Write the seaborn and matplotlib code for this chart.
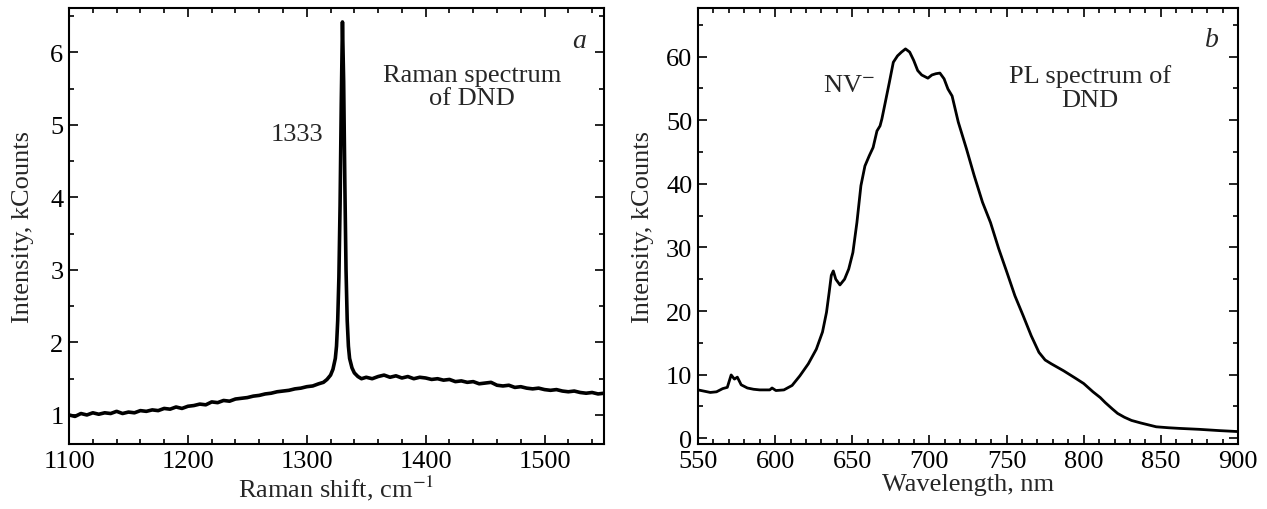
import numpy as np
import pandas as pd
import matplotlib.pyplot as plt
import seaborn as sns
from matplotlib.ticker import MultipleLocator

# Raman spectrum of DND (panel a)
raman_shift = [1100, 1105, 1110, 1115, 1120, 1125, 1130, 1135, 1140, 1145,
               1150, 1155, 1160, 1165, 1170, 1175, 1180, 1185, 1190, 1195,
               1200, 1205, 1210, 1215, 1220, 1225, 1230, 1235, 1240, 1245,
               1250, 1255, 1260, 1265, 1270, 1275, 1280, 1285, 1290, 1295,
               1300, 1305, 1310, 1314, 1317, 1320, 1322, 1324, 1325, 1326,
               1327, 1328, 1329, 1330, 1331, 1332, 1333, 1334, 1335, 1336,
               1338, 1340, 1343, 1346, 1350, 1355, 1360, 1365, 1370, 1375,
               1380, 1385, 1390, 1395, 1400, 1405, 1410, 1415, 1420, 1425,
               1430, 1435, 1440, 1445, 1450, 1455, 1460, 1465, 1470, 1475,
               1480, 1485, 1490, 1495, 1500, 1505, 1510, 1515, 1520, 1525,
               1530, 1535, 1540, 1545, 1550]
raman_kcounts = [1.00, 0.98, 1.02, 1.00, 1.03, 1.01, 1.03, 1.02, 1.05, 1.02,
                 1.04, 1.03, 1.06, 1.05, 1.07, 1.06, 1.09, 1.08, 1.11, 1.09,
                 1.12, 1.13, 1.15, 1.14, 1.18, 1.17, 1.20, 1.19, 1.22, 1.23,
                 1.24, 1.26, 1.27, 1.29, 1.30, 1.32, 1.33, 1.34, 1.36, 1.37,
                 1.39, 1.40, 1.43, 1.45, 1.49, 1.55, 1.63, 1.78, 1.95, 2.30,
                 2.90, 3.90, 5.30, 6.42, 5.60, 4.20, 3.00, 2.30, 1.95, 1.78,
                 1.65, 1.58, 1.53, 1.50, 1.52, 1.50, 1.53, 1.55, 1.52, 1.54,
                 1.51, 1.53, 1.50, 1.52, 1.51, 1.49, 1.50, 1.48, 1.49, 1.46,
                 1.47, 1.45, 1.46, 1.43, 1.44, 1.45, 1.41, 1.40, 1.41, 1.38,
                 1.39, 1.37, 1.36, 1.37, 1.35, 1.34, 1.35, 1.33, 1.32, 1.33,
                 1.31, 1.30, 1.31, 1.29, 1.30]

# PL spectrum of DND (panel b)
pl_wavelength = [550, 554, 558, 562, 566, 569, 571.5, 573.6, 575.5, 578, 582,
                 586, 590, 596.5, 598, 600.5, 605.7, 611, 616, 621.5, 626.7, 630.7,
                 633.3, 635, 636.4, 637.7, 639.3, 642, 645, 647.7, 650.4, 653,
                 655.6, 658.2, 661, 663.5, 666, 668, 669.2, 671.4, 674, 676.6,
                 679.3, 681.9, 684.5, 687.2, 689.8, 692.4, 695, 699, 701.6, 704.2,
                 706.8, 709.5, 712, 714.7, 718.7, 724, 729, 734.4, 739.6, 744.9,
                 750.2, 755.4, 760.7, 766, 771, 775, 779, 787, 794.9, 800, 806,
                 810.7, 814, 818.6, 822, 826.4, 831, 837, 842, 847, 855, 862,
                 875, 888, 900]
pl_kcounts = [7.6, 7.4, 7.2, 7.3, 7.8, 8.0, 9.95, 9.3, 9.6, 8.4, 7.9,
              7.7, 7.6, 7.6, 7.9, 7.5, 7.6, 8.3, 9.8, 11.7, 14.0, 16.7,
              19.8, 22.9, 25.6, 26.3, 25.0, 24.1, 25.0, 26.6, 29.2, 33.9,
              39.7, 42.8, 44.4, 45.7, 48.3, 49.1, 50.2, 52.8, 55.9, 59.1,
              60.1, 60.7, 61.2, 60.7, 59.4, 57.8, 57.1, 56.6, 57.1, 57.3,
              57.4, 56.5, 54.9, 53.8, 49.7, 45.5, 41.3, 37.1, 33.9, 29.8,
              26.1, 22.4, 19.3, 16.1, 13.5, 12.3, 11.7, 10.6, 9.4, 8.6, 7.3,
              6.4, 5.6, 4.6, 3.9, 3.3, 2.8, 2.4, 2.1, 1.8, 1.65, 1.55,
              1.4, 1.2, 1.05]

raman = pd.DataFrame({"shift": raman_shift, "intensity": raman_kcounts})
pl = pd.DataFrame({"wavelength": pl_wavelength, "intensity": pl_kcounts})

sns.set_style("ticks")
plt.rcParams['font.family'] = ['Liberation Serif', 'DejaVu Serif']
plt.rcParams['mathtext.fontset'] = 'stix'
fs = 19

fig = plt.figure(figsize=(12.67, 5.10), dpi=100)
ax1 = fig.add_axes([0.0545, 0.1275, 0.4222, 0.8545])
ax2 = fig.add_axes([0.5509, 0.1275, 0.4262, 0.8545])

sns.lineplot(data=raman, x="shift", y="intensity", ax=ax1, color="black", linewidth=2.6)
sns.lineplot(data=pl, x="wavelength", y="intensity", ax=ax2, color="black", linewidth=2.0)

# Panel a
ax1.set_xlim(1100, 1550)
ax1.set_ylim(0.6, 6.61)
ax1.xaxis.set_major_locator(MultipleLocator(100))
ax1.xaxis.set_minor_locator(MultipleLocator(20))
ax1.yaxis.set_major_locator(MultipleLocator(1))
ax1.yaxis.set_minor_locator(MultipleLocator(0.5))
ax1.set_xlabel("Raman shift, cm$^{-1}$", fontsize=fs, labelpad=1)
ax1.set_ylabel("Intensity, kCounts", fontsize=fs, labelpad=12)
ax1.text(1529, 6.16, "a", fontsize=fs + 1, style="italic", ha="center", va="center")
ax1.text(1439, 5.53, "Raman spectrum\nof DND", fontsize=fs, ha="center", va="center",
         linespacing=1.1)
ax1.text(1292, 4.87, "1333", fontsize=fs, ha="center", va="center")

# Panel b
ax2.set_xlim(550, 900)
ax2.set_ylim(-0.9, 67.6)
ax2.xaxis.set_major_locator(MultipleLocator(50))
ax2.xaxis.set_minor_locator(MultipleLocator(10))
ax2.yaxis.set_major_locator(MultipleLocator(10))
ax2.yaxis.set_minor_locator(MultipleLocator(5))
ax2.set_xlabel("Wavelength, nm", fontsize=fs, labelpad=1)
ax2.set_ylabel("Intensity, kCounts", fontsize=fs, labelpad=9)
ax2.text(883, 62.7, "b", fontsize=fs + 1, style="italic", ha="center", va="center")
ax2.text(804, 55.1, "PL spectrum of\nDND", fontsize=fs, ha="center", va="center",
         linespacing=1.1)
ax2.text(648, 55.6, "NV$^{-}$", fontsize=fs, ha="center", va="center")

for ax in (ax1, ax2):
    for sp in ax.spines.values():
        sp.set_linewidth(1.5)
        sp.set_color("black")
    ax.tick_params(which="both", direction="in", top=True, right=True, width=1.2, colors="black")
    ax.tick_params(which="major", length=6.5, labelsize=fs, pad=4)
    ax.tick_params(which="minor", length=3.6)

plt.savefig("out.png", dpi=100)
